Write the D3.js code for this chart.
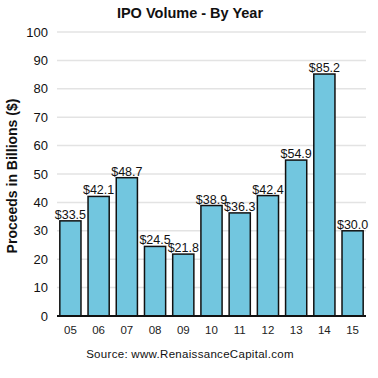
<!DOCTYPE html>
<html>
<head>
<meta charset="utf-8">
<script src="https://cdn.jsdelivr.net/npm/d3@7"></script>
<style>
  body { margin: 0; background: #fff; }
  svg text { font-family: "Liberation Sans", Arial, sans-serif; }
</style>
</head>
<body>
<div id="chart"></div>
<script>
// data
var years = ["05", "06", "07", "08", "09", "10", "11", "12", "13", "14", "15"];
var proceeds = [33.5, 42.1, 48.7, 24.5, 21.8, 38.9, 36.3, 42.4, 54.9, 85.2, 30.0];
var yTicks = [0, 10, 20, 30, 40, 50, 60, 70, 80, 90, 100];

var width = 378, height = 378;
var plotLeft = 57, plotRight = 366, plotTop = 32, plotBottom = 316;

var svg = d3.select("#chart").append("svg")
  .attr("width", width).attr("height", height);

var x = d3.scaleBand().domain(years).range([plotLeft, plotRight])
  .paddingInner(0.25).paddingOuter(0.1);
var y = d3.scaleLinear().domain([0, 100]).range([plotBottom, plotTop]);

//gridlines
svg.selectAll("line.grid").data(yTicks.slice(1)).enter().append("line")
  .attr("class", "grid")
  .attr("x1", plotLeft).attr("x2", plotRight)
  .attr("y1", function (d) { return y(d); })
  .attr("y2", function (d) { return y(d); })
  .attr("stroke", "#e3e3e3").attr("stroke-width", 1.5);

//y tick labels
svg.selectAll("text.ytick").data(yTicks).enter().append("text")
  .attr("class", "ytick")
  .attr("x", 48)
  .attr("y", function (d) { return y(d); })
  .attr("dy", "0.36em")
  .attr("text-anchor", "end")
  .attr("font-size", 13)
  .attr("fill", "#111")
  .text(function (d) { return d; });

//bars
var data = years.map(function (d, i) { return { year: d, value: proceeds[i] }; });
svg.selectAll("rect").data(data).enter().append("rect")
  .attr("x", function (d) { return x(d.year); })
  .attr("y", function (d) { return y(d.value); })
  .attr("width", x.bandwidth())
  .attr("height", function (d) { return y(0) - y(d.value); })
  .attr("fill", "#72c6df")
  .attr("stroke", "#111")
  .attr("stroke-width", 1.5);

//value labels
svg.selectAll("text.val").data(data).enter().append("text")
  .attr("class", "val")
  .attr("x", function (d) { return x(d.year) + x.bandwidth() / 2; })
  .attr("y", function (d) { return y(d.value) - 2; })
  .attr("text-anchor", "middle")
  .attr("font-size", 12.5)
  .attr("fill", "#111")
  .text(function (d) { return "$" + d.value.toFixed(1); });

//x axis line
svg.append("line")
  .attr("x1", plotLeft).attr("x2", plotRight)
  .attr("y1", y(0)).attr("y2", y(0))
  .attr("stroke", "#111").attr("stroke-width", 2);

//x tick labels
svg.selectAll("text.xtick").data(years).enter().append("text")
  .attr("class", "xtick")
  .attr("x", function (d) { return x(d) + x.bandwidth() / 2; })
  .attr("y", 334)
  .attr("text-anchor", "middle")
  .attr("font-size", 11.5)
  .attr("fill", "#222")
  .text(function (d) { return d; });

//title
svg.append("text")
  .attr("x", 190).attr("y", 18)
  .attr("text-anchor", "middle")
  .attr("font-size", 14.5).attr("font-weight", "bold")
  .attr("fill", "#111")
  .text("IPO Volume - By Year");

//y axis title
svg.append("text")
  .attr("transform", "translate(17," + ((plotTop + plotBottom) / 2 + 2) + ") rotate(-90)")
  .attr("text-anchor", "middle")
  .attr("font-size", 14).attr("font-weight", "bold")
  .attr("fill", "#111")
  .text("Proceeds in Billions ($)");

//source
svg.append("text")
  .attr("x", 190).attr("y", 358)
  .attr("text-anchor", "middle")
  .attr("font-size", 11.5)
  .attr("letter-spacing", 0.3)
  .attr("fill", "#111")
  .text("Source: www.RenaissanceCapital.com");
</script>
</body>
</html>
